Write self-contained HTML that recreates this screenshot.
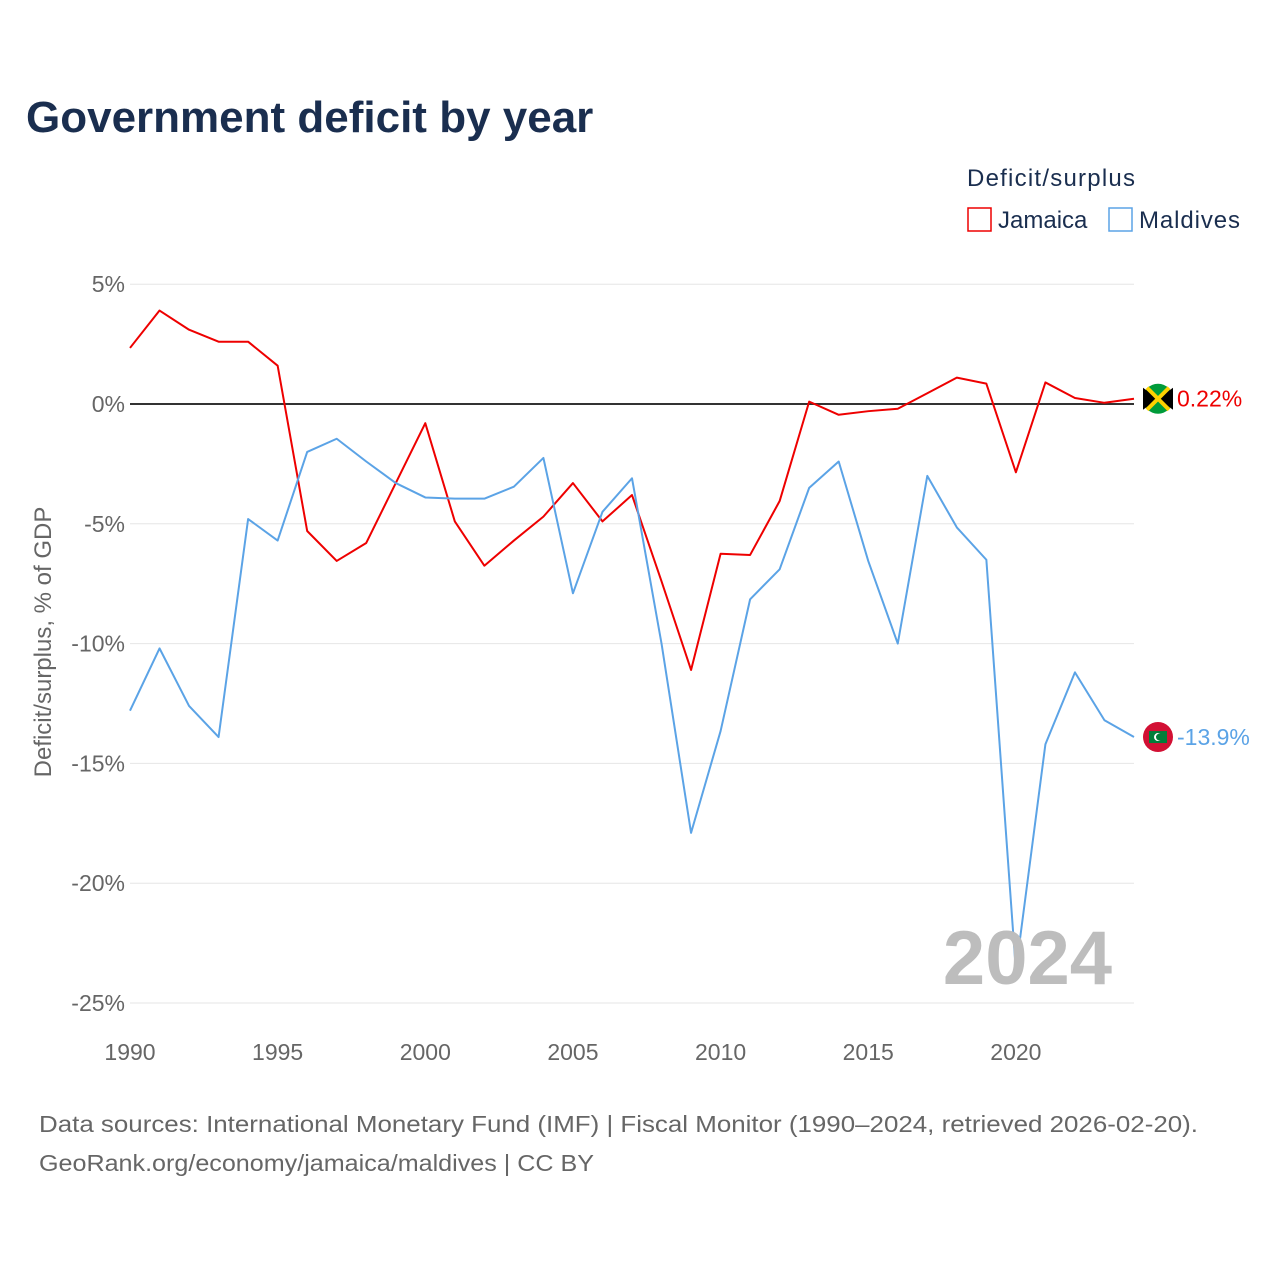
<!DOCTYPE html>
<html><head><meta charset="utf-8">
<style>
body{margin:0;background:#fff;font-family:"Liberation Sans",sans-serif;}
#wrap{position:relative;width:1280px;height:1280px;overflow:hidden;}
</style></head>
<body><div id="wrap">
<svg id="chart" width="1280" height="1280" xmlns="http://www.w3.org/2000/svg">
<text x="26" y="132" font-size="44" font-weight="bold" fill="#1a2e4f">Government deficit by year</text>
<text x="967" y="186" font-size="24" fill="#1a2e4f" textLength="168">Deficit/surplus</text>
<g><rect x="968" y="208" width="23" height="23" fill="none" stroke="#ee0000" stroke-width="1.5"/><text x="998" y="228" font-size="24" fill="#1a2e4f">Jamaica</text></g>
<g><rect x="1109" y="208" width="23" height="23" fill="none" stroke="#5ba3e6" stroke-width="1.5"/><text x="1139" y="228" font-size="24" fill="#1a2e4f" textLength="101">Maldives</text></g>
<g id="grid"></g><g id="axes"></g><g id="series"></g>
<text transform="translate(51,642) rotate(-90)" text-anchor="middle" font-size="24" fill="#666">Deficit/surplus, % of GDP</text>
<text x="1112" y="984" text-anchor="end" font-size="76" font-weight="bold" fill="#bdbdbd">2024</text>
<text x="39" y="1132" font-size="23" fill="#666" textLength="1159" lengthAdjust="spacingAndGlyphs">Data sources: International Monetary Fund (IMF) | Fiscal Monitor (1990–2024, retrieved 2026-02-20).</text>
<text x="39" y="1171" font-size="23" fill="#666" textLength="555" lengthAdjust="spacingAndGlyphs">GeoRank.org/economy/jamaica/maldives | CC BY</text>
</svg>
<script>
const years=[1990,1991,1992,1993,1994,1995,1996,1997,1998,1999,2000,2001,2002,2003,2004,2005,2006,2007,2008,2009,2010,2011,2012,2013,2014,2015,2016,2017,2018,2019,2020,2021,2022,2023,2024];
const jamaica=[2.34,3.9,3.1,2.6,2.6,1.6,-5.3,-6.55,-5.8,-3.3,-0.8,-4.9,-6.75,-5.7,-4.7,-3.3,-4.9,-3.8,-7.4,-11.1,-6.25,-6.3,-4.05,0.1,-0.45,-0.3,-0.2,0.45,1.1,0.85,-2.85,0.9,0.25,0.05,0.22];
const maldives=[-12.8,-10.2,-12.6,-13.9,-4.8,-5.7,-2.0,-1.45,-2.4,-3.3,-3.9,-3.95,-3.95,-3.45,-2.25,-7.9,-4.5,-3.1,-10.0,-17.9,-13.65,-8.15,-6.9,-3.5,-2.4,-6.55,-10.0,-3.0,-5.15,-6.5,-23.65,-14.2,-11.2,-13.2,-13.9];
const yTicks=[5,0,-5,-10,-15,-20,-25];
const xTicks=[1990,1995,2000,2005,2010,2015,2020];
const NS="http://www.w3.org/2000/svg";
const X=v=>130+(v-1990)*(1134-130)/34;
const Y=v=>404-v*23.96;
function mk(tag,attrs,parent){const e=document.createElementNS(NS,tag);for(const k in attrs)e.setAttribute(k,attrs[k]);parent.appendChild(e);return e;}
const grid=document.getElementById('grid'),axes=document.getElementById('axes'),ser=document.getElementById('series');
yTicks.forEach(t=>{
 const l=mk('line',{x1:130,x2:1134,y1:Y(t),y2:Y(t),stroke:t===0?'#333':'#e6e6e6','stroke-width':t===0?2:1},grid);
 
 
 const tx=mk('text',{x:125,y:Y(t)+8,'text-anchor':'end','font-size':23,fill:'#666'},axes);
 tx.textContent=t+'%';
 
 
});
xTicks.forEach(t=>{
 const tx=mk('text',{x:X(t),y:1060,'text-anchor':'middle','font-size':23,fill:'#666'},axes);
 tx.textContent=t;
 
 
});
function line(data,color,name){
 const p=mk('polyline',{points:data.map((v,i)=>X(years[i])+','+Y(v)).join(' '),fill:'none',stroke:color,'stroke-width':2,'stroke-linejoin':'round'},ser);
 
 
}
line(jamaica,'#ee0000','jamaica-line');
line(maldives,'#5ba3e6','maldives-line');
const jl=jamaica[jamaica.length-1],ml=maldives[maldives.length-1];
const jx=1158;
const jf=mk('g',{},ser);


mk('circle',{cx:jx,cy:Y(jl),r:15,fill:'#009b3a'},jf);
mk('path',{d:`M${jx-15} ${Y(jl)-11}L${jx} ${Y(jl)}L${jx-15} ${Y(jl)+11}Z M${jx+15} ${Y(jl)-11}L${jx} ${Y(jl)}L${jx+15} ${Y(jl)+11}Z`,fill:'#000'},jf);
mk('path',{d:`M${jx-11} ${Y(jl)-11}L${jx+11} ${Y(jl)+11}M${jx+11} ${Y(jl)-11}L${jx-11} ${Y(jl)+11}`,stroke:'#fed100','stroke-width':4},jf);
const jt=mk('text',{x:1177,y:Y(jl)+8,'font-size':23,fill:'#ee0000'},ser);
jt.textContent=jl.toFixed(2)+'%';


const mf=mk('g',{},ser);


mk('circle',{cx:jx,cy:Y(ml),r:15,fill:'#d21034'},mf);
mk('rect',{x:jx-9,y:Y(ml)-6,width:18,height:12,fill:'#007e3a'},mf);
mk('circle',{cx:jx,cy:Y(ml),r:4,fill:'#fff'},mf);
mk('circle',{cx:jx+1.5,cy:Y(ml),r:3.5,fill:'#007e3a'},mf);
const mt=mk('text',{x:1177,y:Y(ml)+8,'font-size':23,fill:'#5ba3e6'},ser);
mt.textContent=ml.toFixed(1)+'%';


</script>
</div></body></html>
